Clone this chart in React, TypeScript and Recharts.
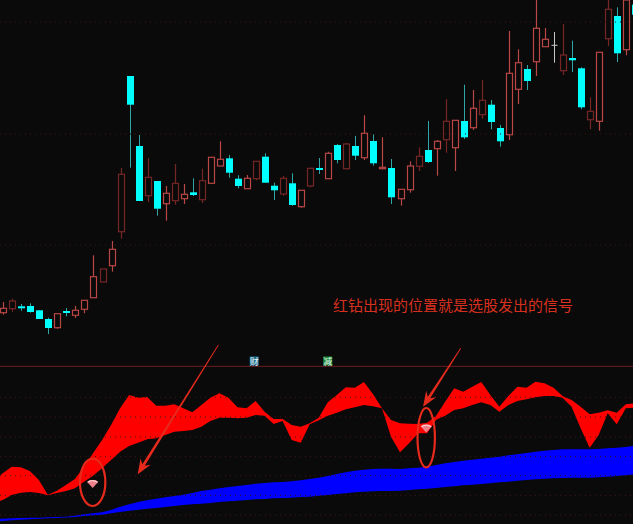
import React from 'react';
import { ComposedChart, Bar, Area, XAxis, YAxis, ReferenceLine, ReferenceDot } from 'recharts';

const WIDTH = 633;
const HEIGHT = 524;
const BG = '#0a0a0a';

// candles (unit is arbitrary, there is no price scale shown)
// anything above the top edge of the picture is read as 366
const opens = [53.3, 57.3, 59.7, 60, 55.7, 47, 38.3, 55, 50.7, 56.7, 68.3, 84, 100.3, 134.3, 290, 220, 170.3, 185, 162.3, 165.3, 167.3, 173.7, 166.3, 182.7, 200, 207.7, 187.3, 177.3, 187.3, 209.3, 180.3, 172, 182.7, 159.3, 180, 198, 187.3, 221, 197.3, 220, 208.3, 225, 197.3, 198, 167.3, 176.3, 199.7, 216, 217.3, 226.3, 218.3, 245, 238.3, 251.3, 261.3, 238, 231.3, 276.7, 297, 304.3, 319.3, 320.7, 295.3, 308, 297.7, 246.3, 244.7, 327.3, 350, 316.3, 361.3];
const closes = [57.7, 65, 57.7, 54, 47, 38, 52.3, 53.3, 55.7, 65.7, 89.3, 97, 116.7, 191.7, 261.3, 165, 188.7, 157.3, 172.7, 182.7, 171.7, 171, 185.3, 208.7, 206.7, 193.3, 180, 187.7, 204.7, 183.3, 175.7, 187.7, 161, 175.7, 197.7, 196, 212.7, 206, 222, 210.3, 232.7, 202.7, 198.7, 168.7, 176.7, 200, 209.7, 204, 224.7, 244.7, 245.7, 228.7, 257.7, 265.7, 244, 224.7, 292.7, 303.3, 285, 337.7, 326.7, 320.7, 311, 305.7, 258.7, 254.7, 313.7, 356.7, 312.7, 366, 351.3];
const highs = [64, 67.3, 62, 62.7, 55.7, 48.3, 52.3, 58, 60, 65.7, 110.7, 97, 125, 198, 290, 231, 207.7, 185, 180, 202, 182, 187.7, 197.3, 208.7, 224.7, 211, 190.7, 191, 204.7, 212.7, 183.3, 190, 192.7, 175.7, 198.3, 208, 214.3, 222, 223.3, 230, 250.7, 231.7, 228.7, 207, 176.7, 204.7, 218.7, 245, 226, 266.7, 245.7, 281.3, 276, 286, 266, 241, 335, 316.7, 301, 366, 338, 334, 342, 325.3, 298.7, 268.7, 313.7, 366, 358.7, 366, 364];
const lows = [51.3, 54.3, 55.3, 53.3, 47, 32, 37.3, 49.7, 48, 52.7, 68.3, 84, 94.3, 127.3, 198.3, 165, 163.7, 150.3, 145.3, 161.3, 162, 170, 163, 182.7, 200, 188.3, 177.7, 177.3, 185.7, 183.3, 166, 170.3, 160.3, 158.3, 178.7, 192, 187.3, 202.7, 196.7, 206, 206, 200.3, 196.7, 162, 160.3, 173.3, 195, 203, 190.3, 213.3, 195, 227, 236, 247.3, 236.7, 219.3, 226, 262, 276, 290, 319.3, 303.3, 291, 294, 256.7, 236.7, 235.3, 320, 304, 310.7, 350];

// red band of the lower indicator
const redUpper = [50.7, 57.3, 56.7, 53, 44, 29.3, 33.3, 39, 45, 57.3, 70.7, 84, 99, 115.7, 129, 126.3, 127, 118.3, 118.3, 119.7, 115.7, 111.7, 119, 126.3, 130.7, 126.3, 116.7, 115.7, 123, 112.3, 105, 105, 99, 97.3, 100.7, 106.3, 121.7, 129, 136.7, 136.3, 142, 130, 115.7, 104, 100.7, 100.3, 100, 101.3, 108.3, 122.3, 135.7, 132.3, 137.3, 142, 129, 117.3, 128, 137.3, 136.3, 142.3, 140.7, 136.3, 128, 124, 117.3, 109.7, 111.3, 113.7, 111.3, 119.7, 120.7];
const redLower = [24, 29, 31.3, 32, 31, 28.7, 31, 33, 35.7, 42.3, 48.3, 55.7, 64, 72.3, 78, 81.3, 84.7, 85.7, 89, 92.3, 93, 94, 97.3, 103, 106.3, 106.3, 105.7, 106.3, 109, 108.3, 100, 103, 84, 81.3, 99.7, 103.7, 108.3, 111.3, 114.7, 116.7, 119, 117.7, 115.7, 87.3, 71.7, 80.7, 90.7, 90.7, 104.3, 108.3, 114, 115.7, 119, 121.7, 119, 112.3, 119, 123, 124.7, 126.7, 128, 128, 126.3, 117.3, 95.7, 76.3, 89, 110.7, 99.7, 115.7, 116.3];

// blue band of the lower indicator
const blueUpper = [5.3, 5.7, 6, 6.3, 6.3, 6.7, 7, 7.3, 8.3, 9.7, 10.7, 11.7, 14, 17.3, 19.7, 22, 23.7, 25.3, 26.7, 28, 29.3, 31, 33, 34.3, 35.7, 37, 38, 39, 40.3, 41, 41.7, 42, 42.7, 43.7, 45, 46.3, 48, 50, 51.7, 53.3, 54.3, 55, 55.3, 55.3, 55, 55.7, 56.3, 57.3, 59, 60.7, 62, 63.3, 64.3, 65.3, 66.3, 67.3, 68.7, 69.7, 71, 72.3, 73.3, 74, 74.7, 74.7, 74.7, 74.7, 75, 75.7, 76.3, 77, 78.3];
const blueLower = [3, 3.7, 4.3, 4.7, 5.3, 5.7, 6, 6.5, 7, 8, 8.7, 9.3, 10.7, 12, 13.3, 14.3, 15.3, 16, 17, 18, 19, 19.7, 20.3, 21, 22, 22.7, 23.3, 24, 24.7, 25, 25.7, 26, 26.3, 27, 27.3, 28.3, 29, 30, 30.7, 31.7, 32.3, 32.7, 33, 33, 33.3, 34, 34.7, 35.3, 36, 37, 37.7, 38.7, 39.3, 40, 40.7, 41.7, 42.3, 43.3, 44, 44.7, 45.3, 45.7, 46, 46.3, 46.3, 46.3, 46.7, 47.3, 48, 48.7, 49.7];

// the bands run off the left edge, one session before the first full candle
const redBefore = [21, 43];
const blueBefore = [2.5, 5];

// hollow candles that come out darker in the screenshot
const dimCandles = [1, 11, 13, 16, 19, 22, 28, 31, 34, 38, 46, 49, 53, 62, 65, 67];

const priceGrid = [344, 232, 121];
const indicatorGrid = [126.7, 107, 87, 67.3, 48.3, 28.7, 9];
const DIVIDER = 157.7;

const data = [
  { i: -1, red: redBefore, blue: blueBefore },
  ...opens.map((open, i) => ({
    i,
    open,
    close: closes[i],
    high: highs[i],
    low: lows[i],
    red: [redLower[i], redUpper[i]],
    blue: [blueLower[i], blueUpper[i]],
  })),
];

const RED = '#ba4646';
const RED_DIM = '#772626';
const CYAN = '#00ffff';
const CYAN_WICK = '#2fa6a6';
const MARK = '#e62a1c';

const Candle = (props: any) => {
  const { x, y, width, height, payload } = props;
  const { open, close, high, low, i } = payload;
  if (high === undefined) return null;
  const k = height / (high - low);
  const top = y + (high - Math.max(open, close)) * k;
  const bottom = y + (high - Math.min(open, close)) * k;
  const cx = Math.round(x + width / 2) + 0.5;
  const left = Math.round(x) + 0.5;
  const w = Math.round(width);

  if (open === close) {
    return (
      <g stroke="#c8c8c8">
        <line x1={cx} x2={cx} y1={y} y2={y + height} />
        <line x1={left} x2={left + w} y1={top} y2={top} />
      </g>
    );
  }
  if (close > open) {
    const color = dimCandles.includes(i) ? RED_DIM : RED;
    return (
      <g stroke={color} strokeWidth={1.2}>
        <line x1={cx} x2={cx} y1={y} y2={top} />
        <line x1={cx} x2={cx} y1={bottom} y2={y + height} />
        <rect x={left} y={top} width={w} height={bottom - top} fill={BG} />
      </g>
    );
  }
  return (
    <g>
      <line x1={cx} x2={cx} y1={y} y2={y + height} stroke={CYAN_WICK} />
      <rect x={left - 0.5} y={top} width={w + 1} height={Math.max(bottom - top, 2)} fill={CYAN} />
    </g>
  );
};

// tapered shaft, barbed head
const Arrow = (props: any) => {
  const { x1, y1, x2, y2 } = props;
  const len = Math.hypot(x2 - x1, y2 - y1);
  const ux = (x2 - x1) / len;
  const uy = (y2 - y1) / len;
  const head = 15;
  const half = 6;
  const bx = x2 - ux * head;
  const by = y2 - uy * head;
  const nx = x2 - ux * (head - 4);
  const ny = y2 - uy * (head - 4);
  const points = [
    `${x1 - uy * 0.4},${y1 + ux * 0.4}`,
    `${nx - uy * 1.4},${ny + ux * 1.4}`,
    `${bx - uy * half},${by + ux * half}`,
    `${x2},${y2}`,
    `${bx + uy * half},${by - ux * half}`,
    `${nx + uy * 1.4},${ny - ux * 1.4}`,
    `${x1 + uy * 0.4},${y1 - ux * 0.4}`,
  ].join(' ');
  return <polygon points={points} fill={MARK} />;
};

const Oval = (rx: number, ry: number) => (props: any) => (
  <ellipse cx={props.cx} cy={props.cy} rx={rx} ry={ry} fill="none" stroke={MARK} strokeWidth={2.2} />
);

const Diamond = (props: any) => {
  const { cx, cy } = props;
  return (
    <g>
      <polygon
        points={`${cx - 5.5},${cy - 2} ${cx - 3},${cy - 4} ${cx + 3},${cy - 4} ${cx + 5.5},${cy - 2} ${cx},${cy + 4}`}
        fill="#f0808a"
      />
      <polyline points={`${cx - 5},${cy - 2} ${cx},${cy - 3.5} ${cx + 5},${cy - 2}`} fill="none" stroke="#ffe0e0" strokeWidth={1} />
    </g>
  );
};

const Badge = (fill: string, label: string) => (props: any) => (
  <g>
    <rect x={props.cx - 4.5} y={props.cy - 4.5} width={9} height={9} fill={fill} />
    <text
      x={props.cx}
      y={props.cy + 3.5}
      textAnchor="middle"
      fontSize={9}
      fill="#e8f4f4"
      fontFamily="'Noto Sans CJK SC', sans-serif"
    >
      {label}
    </text>
  </g>
);

export default function App() {
  return (
    <div style={{ position: 'absolute', left: 0, top: 0, width: WIDTH, height: HEIGHT, background: BG }}>
      <ComposedChart width={WIDTH} height={HEIGHT} data={data} margin={{ top: 0, right: 0, bottom: 0, left: 0 }}>
        <XAxis dataKey="i" type="number" domain={[-0.3, 69.8]} allowDataOverflow hide />
        <YAxis yAxisId="price" type="number" domain={[-158, 366]} hide />
        <YAxis yAxisId="ind" type="number" domain={[0, 524]} hide />

        {priceGrid.map((v) => (
          <ReferenceLine key={v} yAxisId="price" y={v} stroke="#3a1414" strokeDasharray="1 4" />
        ))}
        {indicatorGrid.map((v) => (
          <ReferenceLine key={v} yAxisId="ind" y={v} stroke="#451616" strokeDasharray="1 4" />
        ))}
        <ReferenceLine yAxisId="ind" y={DIVIDER} stroke="#701c1c" />

        <Bar
          yAxisId="price"
          dataKey={(d: any) => [d.low, d.high]}
          barSize={6}
          shape={Candle}
          isAnimationActive={false}
        />
        <Area
          yAxisId="ind"
          type="linear"
          dataKey="red"
          stroke="none"
          fill="#ff0000"
          fillOpacity={1}
          dot={false}
          activeDot={false}
          isAnimationActive={false}
        />
        <Area
          yAxisId="ind"
          type="linear"
          dataKey="blue"
          stroke="none"
          fill="#0000ff"
          fillOpacity={1}
          dot={false}
          activeDot={false}
          isAnimationActive={false}
        />

        <ReferenceDot yAxisId="ind" x={27.85} y={163} ifOverflow="visible" shape={Badge('#1f6f8f', '财')} />
        <ReferenceDot yAxisId="ind" x={36} y={163} ifOverflow="visible" shape={Badge('#1f8f3a', '减')} />

        <ReferenceDot yAxisId="ind" x={9.96} y={40} ifOverflow="visible" shape={Diamond} />
        <ReferenceDot yAxisId="ind" x={46.9} y={95.5} ifOverflow="visible" shape={Diamond} />
        <ReferenceDot yAxisId="ind" x={9.96} y={41.7} ifOverflow="visible" shape={Oval(12.7, 23.7)} />
        <ReferenceDot yAxisId="ind" x={46.9} y={86.3} ifOverflow="visible" shape={Oval(8.7, 29.7)} />

        <ReferenceLine
          yAxisId="ind"
          segment={[{ x: 23.88, y: 179 }, { x: 14.95, y: 49.7 }]}
          ifOverflow="visible"
          shape={Arrow}
        />
        <ReferenceLine
          yAxisId="ind"
          segment={[{ x: 50.72, y: 175.7 }, { x: 46.55, y: 117.3 }]}
          ifOverflow="visible"
          shape={Arrow}
        />

        <text x={333} y={311} fontSize={15} fill="#d8301f" fontFamily="'Noto Sans CJK SC', sans-serif">
          红钻出现的位置就是选股发出的信号
        </text>
      </ComposedChart>
    </div>
  );
}
